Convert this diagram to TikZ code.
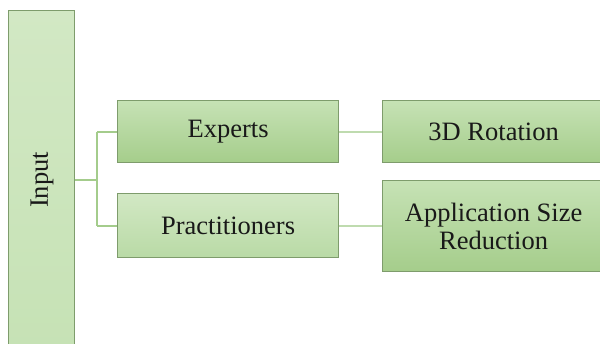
\documentclass[tikz,border=0pt]{standalone}
\usepackage{fontspec}
\setmainfont{Liberation Serif}
\definecolor{bord}{HTML}{7E9C6C}
\definecolor{lnk}{HTML}{A4CC8C}
\definecolor{gtop}{HTML}{C6E2B5}
\definecolor{gbot}{HTML}{A5CD8B}
\definecolor{ltop}{HTML}{D2E8C4}
\definecolor{lbot}{HTML}{B9DAA6}
\begin{document}
\begin{tikzpicture}[x=1pt,y=-1pt,
  box/.style={draw=bord,line width=1.2pt,top color=gtop,bottom color=gbot,anchor=north west,inner sep=0pt,font=\fontsize{26.5}{28}\selectfont,align=center,text=black!90},
  lbox/.style={box,top color=ltop,bottom color=lbot},
  link/.style={draw=lnk,line width=2pt}]
\useasboundingbox (0,0) rectangle (600,344);
\node[box,top color=ltop,bottom color=gtop,minimum width=66pt,minimum height=340pt] (in) at (8,10) {};
\node[rotate=90,font=\fontsize{26.5}{28}\selectfont,text=black!90] (intext) at (42,180) {Input};
\node[box,minimum width=221pt,minimum height=62pt] (exp) at (117,100) {Experts};
\node[lbox,minimum width=221pt,minimum height=64pt] (pra) at (117,193) {Practitioners};
\node[box,minimum width=222pt,minimum height=62pt] (rot) at (382,100) {3D Rotation};
\node[box,minimum width=222pt,minimum height=91pt] (app) at (382,180) {Application Size\\Reduction};
\coordinate (br) at (97,180);
\draw[link] (in.east |- br) -- (br);
\draw[link] (br |- exp.west) -- (br |- pra.west);
\draw[link] (br |- exp.west) -- (exp.west);
\draw[link] (br |- pra.west) -- (pra.west);
\draw[link,draw=lnk!70] (exp.east) -- (rot.west);
\draw[link,draw=lnk!70] (pra.east) -- (rot.west |- pra.east);
\end{tikzpicture}
\end{document}
